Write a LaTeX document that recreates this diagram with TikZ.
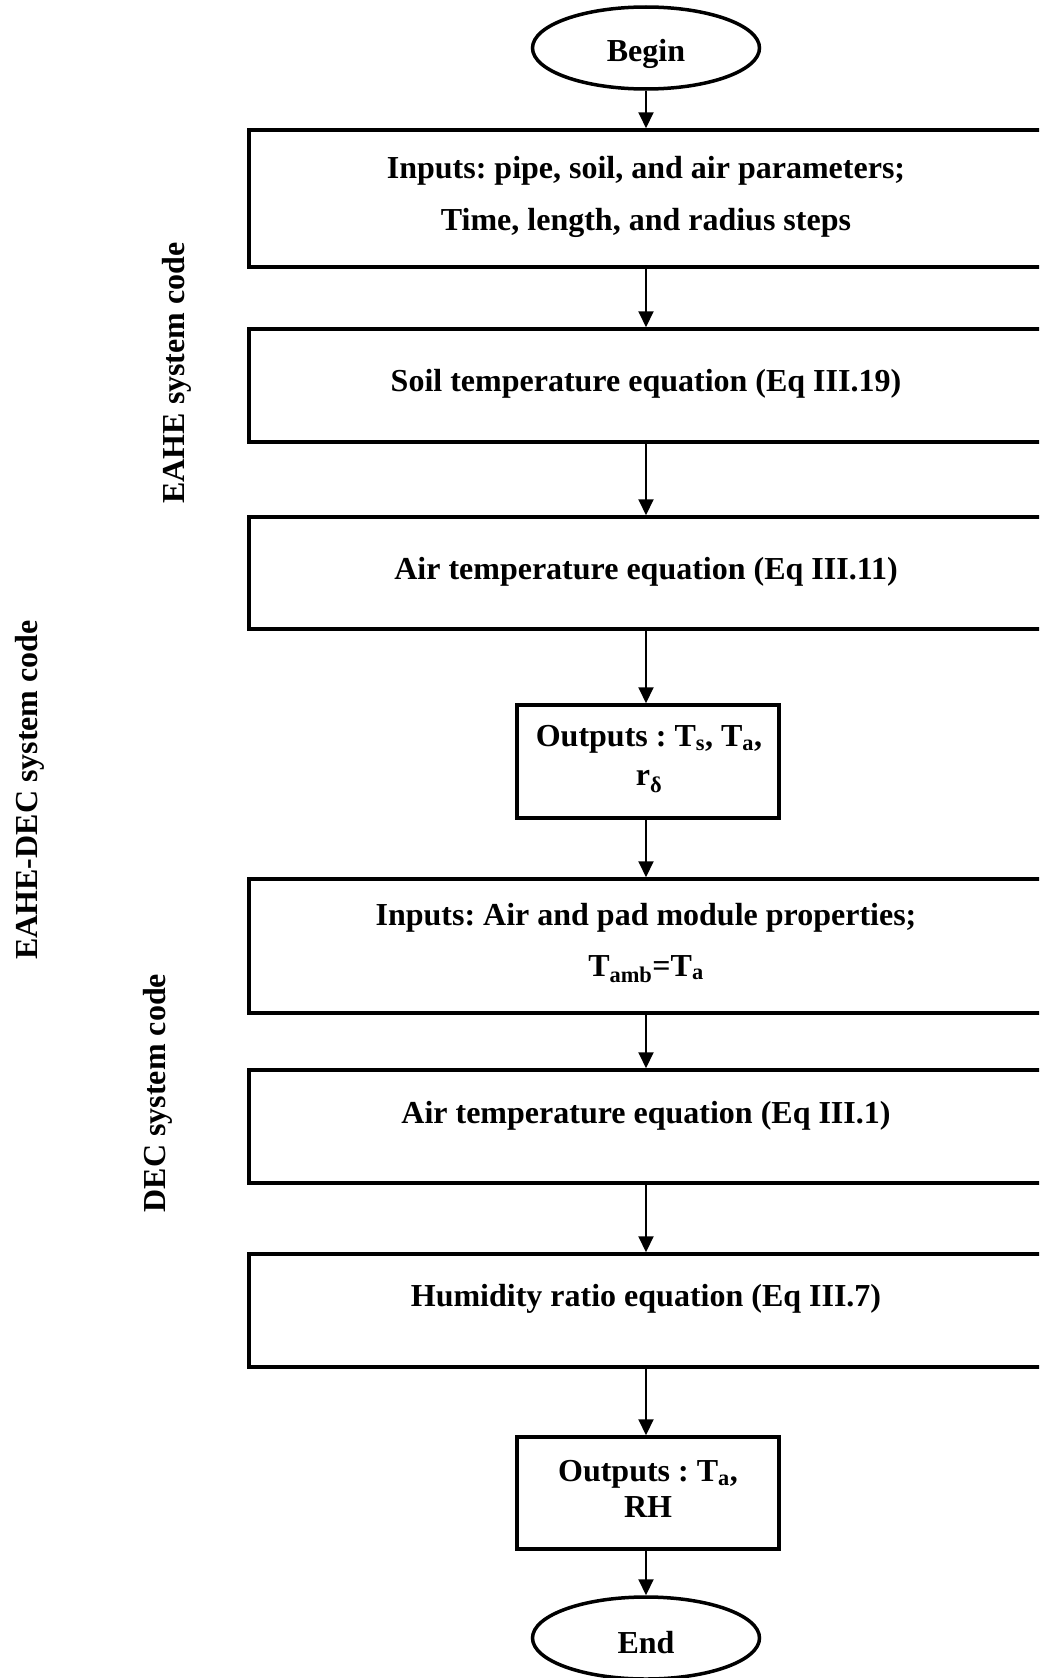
\documentclass[tikz,border=0pt]{standalone}
\usepackage{fontspec}
\setmainfont{Liberation Serif}
\usetikzlibrary{shapes.geometric,arrows.meta}
\frenchspacing
\begin{document}
\begin{tikzpicture}[x=1pt,y=-1pt,
  box/.style={draw,line width=3.5pt,rectangle,inner sep=0pt},
  term/.style={draw,line width=3.5pt,ellipse,minimum width=227pt,minimum height=82pt,inner sep=0pt},
  txt/.style={font=\fontsize{32}{52}\selectfont\bfseries,align=center,inner sep=0pt},
  arr/.style={line width=2pt,-{Triangle[width=15pt,length=16pt]}}]
\useasboundingbox (0,0) rectangle (1039,1678);
\clip (0,0) rectangle (1039,1678);

% terminals
\node[term] (begin) at (646,48) {};
\node[term] (end) at (646,1638) {};
\node[txt] (tb) at (646,54) {Begin};
\node[txt] (te) at (646,1643) {End};

% boxes
\node[box,minimum width=794pt,minimum height=137pt] (b1) at (646,198.5) {};
\node[box,minimum width=794pt,minimum height=113pt] (b2) at (646,385.5) {};
\node[box,minimum width=794pt,minimum height=112pt] (b3) at (646,573) {};
\node[box,minimum width=262pt,minimum height=113pt] (o1) at (648,761.5) {};
\node[box,minimum width=794pt,minimum height=134pt] (b4) at (646,946) {};
\node[box,minimum width=794pt,minimum height=113pt] (b5) at (646,1126.5) {};
\node[box,minimum width=794pt,minimum height=113pt] (b6) at (646,1310.5) {};
\node[box,minimum width=262pt,minimum height=112pt] (o2) at (648,1493) {};

% texts
\node[txt] (t1) at (646,197) {Inputs: pipe, soil, and air parameters;\\Time, length, and radius steps};
\node[txt] (t2) at (646,383.5) {Soil temperature equation (Eq III.19)};
\node[txt] (t3) at (646,571.5) {Air temperature equation (Eq III.11)};
\node[txt,font=\fontsize{32}{39}\selectfont\bfseries] (to1) at (649,759) {Outputs : T\textsubscript{s}, T\textsubscript{a},\\r\textsubscript{δ}};
\node[txt,font=\fontsize{32}{51}\selectfont\bfseries] (t4) at (646,943) {Inputs: Air and pad module properties;\\T\textsubscript{amb}=T\textsubscript{a}};
\node[txt] (t5) at (646,1115.5) {Air temperature equation (Eq III.1)};
\node[txt] (t6) at (646,1298.5) {Humidity ratio equation (Eq III.7)};
\node[txt,font=\fontsize{32}{36}\selectfont\bfseries] (to2) at (648,1489) {Outputs : T\textsubscript{a},\\RH};

% side labels
\node[txt,rotate=90] (l1) at (177,373) {EAHE system code};
\node[txt,rotate=90] (l2) at (29.5,790) {EAHE-DEC system code};
\node[txt,rotate=90] (l3) at (157.5,1093) {DEC system code};

% arrows
\draw[arr] (begin.south) -- (begin.south |- b1.north);
\draw[arr] (b1.south) -- (b2.north);
\draw[arr] (b2.south) -- (b3.north);
\draw[arr] (b3.south) -- (b3.south |- o1.north);
\draw[arr] (o1.south -| b4.north) -- (b4.north);
\draw[arr] (b4.south) -- (b5.north);
\draw[arr] (b5.south) -- (b6.north);
\draw[arr] (b6.south) -- (b6.south |- o2.north);
\draw[arr] (o2.south -| end.north) -- (end.north);
\end{tikzpicture}
\end{document}
